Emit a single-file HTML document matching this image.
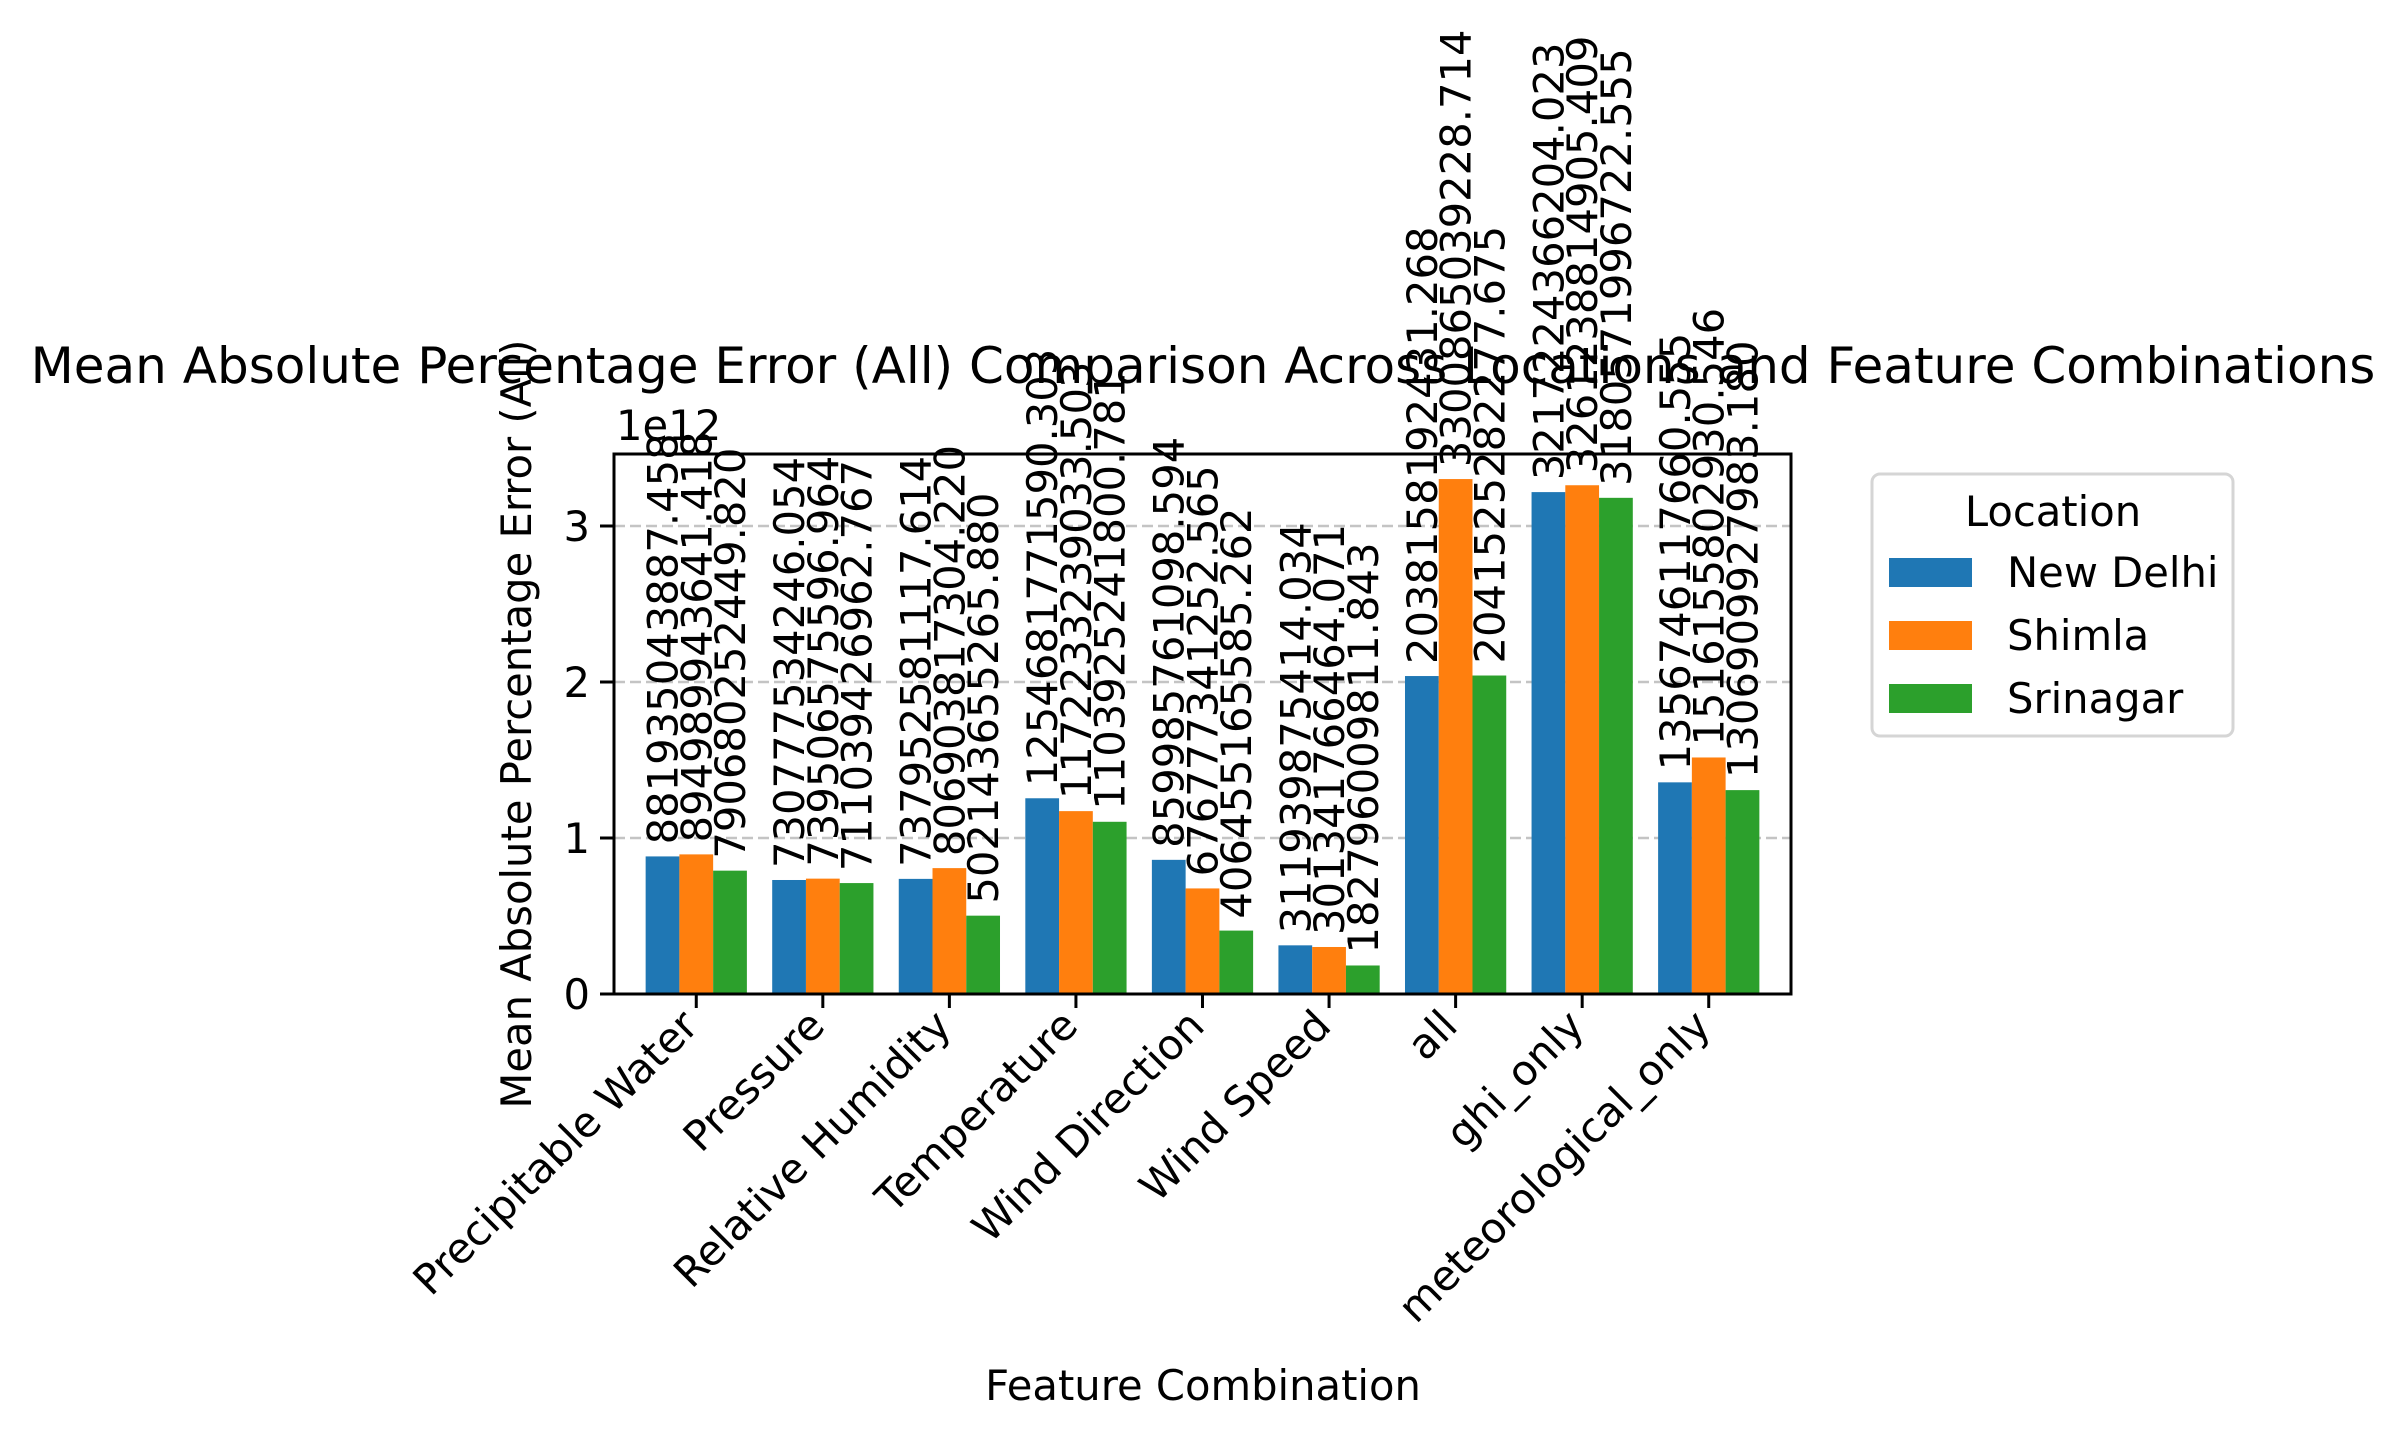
<!DOCTYPE html>
<html><head><meta charset="utf-8">
<style>
html,body{margin:0;padding:0;background:#fff;}
svg{display:block;font-family:"DejaVu Sans","Liberation Sans",sans-serif;}
</style></head>
<body>
<svg id="chart" width="2406" height="1438" viewBox="0 0 2406 1438" xmlns="http://www.w3.org/2000/svg">
<rect width="2406" height="1438" fill="#fff"/>
<g id="grid"></g>
<g id="bars"></g>
<g id="labels"></g>
<g id="axes"></g>
</svg>
<script>
const categories = ["Precipitable Water","Pressure","Relative Humidity","Temperature","Wind Direction","Wind Speed","all","ghi_only","meteorological_only"];
const seriesNames = ["New Delhi","Shimla","Srinagar"];
const newDelhi = [881935043887.458,730777534246.054,737952581117.614,1254681771590.303,859985761098.594,311939875414.034,2038158192431.268,3217224366204.023,1356746117660.555];
const shimla = [894989943641.418,739506575596.964,806903817304.220,1172233239033.503,676777341252.565,301341766464.071,3300865039228.714,3261238814905.409,1516155802930.546];
const srinagar = [790680252449.820,711039426962.767,502143655265.880,1103925241800.781,406455165585.262,182796009811.843,2041525282277.675,3180571996722.555,1306909927983.180];
const yTicks = [0,1,2,3];

const NS = "http://www.w3.org/2000/svg";
const colors = ["#1f77b4","#ff7f0e","#2ca02c"];
const series = [newDelhi, shimla, srinagar];
const L = 614, R = 1791, T = 454, B = 994;
const xMin = -0.65, xMax = 8.65, yMax = 3.4615e12;
const xs = v => L + (v - xMin) / (xMax - xMin) * (R - L);
const ys = v => B - v / yMax * (B - T);
const bw = 0.8 / 3;
function mk(tag, attrs, parent, text) {
  const e = document.createElementNS(NS, tag);
  for (const k in attrs) e.setAttribute(k, attrs[k]);
  if (text !== undefined) e.textContent = text;
  parent.appendChild(e);
  return e;
}
const gGrid = document.getElementById("grid");
const gBars = document.getElementById("bars");
const gLab = document.getElementById("labels");
const gAx = document.getElementById("axes");

yTicks.forEach(t => {
  if (t > 0) {
    const gl = mk("line", {x1:L, x2:R, y1:ys(t*1e12), y2:ys(t*1e12), stroke:"#c4c4c4", "stroke-width":2.5, "stroke-dasharray":"11,5"}, gGrid);
    
    
  }
  const tk = mk("line", {x1:L-14, x2:L, y1:ys(t*1e12), y2:ys(t*1e12), stroke:"#000", "stroke-width":3}, gAx);
  
  
  const tl = mk("text", {x:L-24, y:ys(t*1e12)+15, "text-anchor":"end", "font-size":41.7}, gAx, String(t));
  
  
});

categories.forEach((c, i) => {
  series.forEach((s, j) => {
    const x0 = i - 0.4 + j * bw;
    const r = mk("rect", {x:xs(x0), y:ys(s[i]), width:xs(x0+bw)-xs(x0), height:B-ys(s[i]), fill:colors[j]}, gBars);
    
    
    const cx = xs(x0 + bw/2) + 15, cy = ys(s[i]) - 12;
    const t = mk("text", {x:cx, y:cy, "font-size":41.7, transform:"rotate(-90 " + cx + " " + cy + ")"}, gLab, s[i].toFixed(3));
    
    
  });
  const tx = xs(i);
  const tk = mk("line", {x1:tx, x2:tx, y1:B, y2:B+14, stroke:"#000", "stroke-width":3}, gAx);
  
  
  const ax = tx + 4, ay = B + 34;
  const tl = mk("text", {x:ax, y:ay, "text-anchor":"end", "font-size":41.7, transform:"rotate(-45 " + ax + " " + ay + ")"}, gAx, c);
  
  
});

const frame = mk("rect", {x:L, y:T, width:R-L, height:B-T, fill:"none", stroke:"#000", "stroke-width":3}, gAx);


const off = mk("text", {x:616, y:440, "font-size":41.7}, gAx, "1e12");


const title = mk("text", {x:1203, y:383, "text-anchor":"middle", "font-size":50}, gAx, "Mean Absolute Percentage Error (All) Comparison Across Locations and Feature Combinations");


const xt = mk("text", {x:1203, y:1400, "text-anchor":"middle", "font-size":41.7}, gAx, "Feature Combination");


const yt = mk("text", {x:531, y:724, "text-anchor":"middle", "font-size":41.7, transform:"rotate(-90 531 724)"}, gAx, "Mean Absolute Percentage Error (All)");



const leg = mk("g", {}, gAx);


mk("rect", {x:1872, y:474, width:361, height:262, rx:8, fill:"#fff", stroke:"#d5d5d5", "stroke-width":3}, leg);
const lt = mk("text", {x:2053, y:526, "text-anchor":"middle", "font-size":41.7}, leg, "Location");


seriesNames.forEach((n, j) => {
  const yy = 558 + j * 63;
  const p = mk("rect", {x:1889, y:yy, width:83, height:29, fill:colors[j]}, leg);
  
  
  const t = mk("text", {x:2007, y:yy + 29, "font-size":41.7}, leg, n);
  
  
});
</script>
</body></html>
